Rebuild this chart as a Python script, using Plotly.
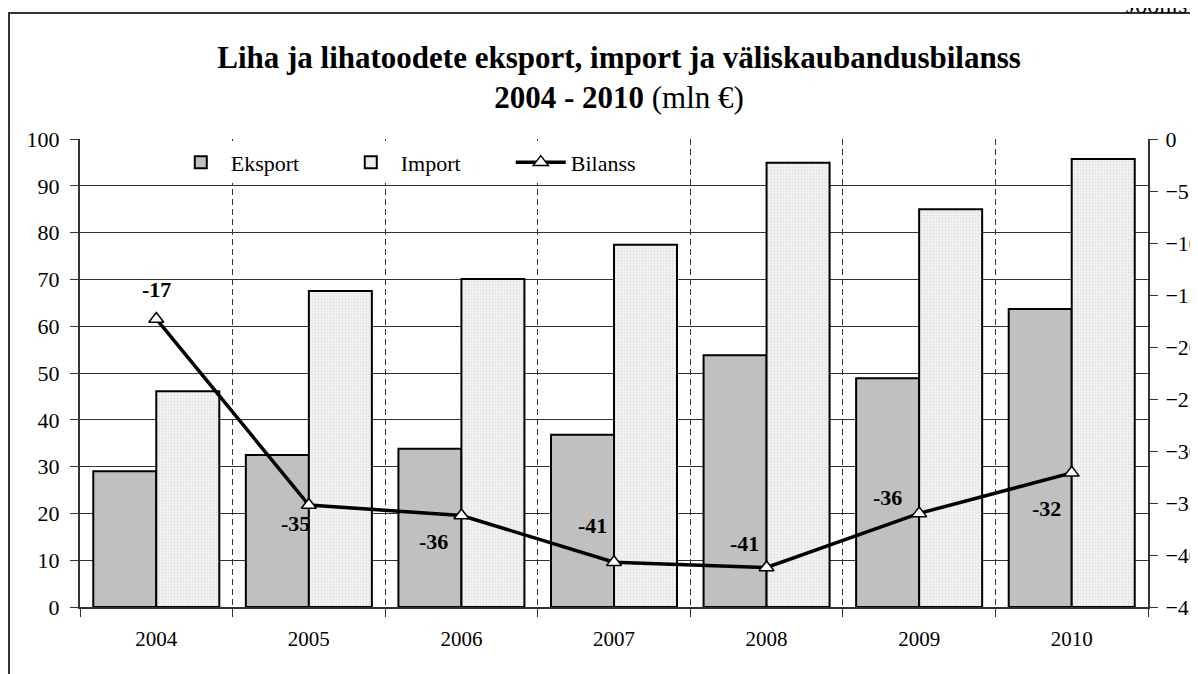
import plotly.graph_objects as go

years = ["2004", "2005", "2006", "2007", "2008", "2009", "2010"]
eksport = [29.0, 32.5, 33.8, 36.8, 53.8, 48.9, 63.7]
importv = [46.1, 67.5, 70.1, 77.4, 94.9, 85.0, 95.7]
bilanss = [-17.3, -35.2, -36.2, -40.7, -41.2, -36.0, -32.1]

# label offsets (px) for the balance labels
lab_dx = [0, -13, -28, -22, -22, -32, -25]
lab_dy = [29, -18, -26, 37, 24, 16, -36]

FONT = "Liberation Serif, Times New Roman, serif"

fig = go.Figure()
fig.add_trace(go.Bar(
    x=years, y=eksport, name="Eksport",
    marker=dict(color="#c0c0c0", line=dict(color="black", width=2)),
))
fig.add_trace(go.Bar(
    x=years, y=importv, name="Import",
    marker=dict(color="#f2f2f2", line=dict(color="black", width=2),
                pattern=dict(shape=".", size=3, solidity=0.3,
                             fgcolor="#c8c8c8", bgcolor="#f4f4f4")),
))
fig.add_trace(go.Scatter(
    x=years, y=bilanss, name="Bilanss", yaxis="y2", mode="lines+markers",
    line=dict(color="black", width=3.5),
    marker=dict(symbol="triangle-up", size=13, color="white",
                line=dict(color="black", width=1.5)),
))

for i, (v, dx, dy) in enumerate(zip(bilanss, lab_dx, lab_dy)):
    fig.add_annotation(x=i, y=v, xref="x", yref="y2", text=f"<b>{round(v):d}</b>",
                       showarrow=False, xshift=dx, yshift=dy,
                       font=dict(family=FONT, size=22, color="black"))

# outer frame and figure number
fig.add_shape(type="rect", xref="paper", yref="paper",
              x0=(9 - 80) / 1068, x1=1.5, y0=-0.5, y1=(607 - 13) / 468,
              line=dict(color="#333333", width=2), layer="below")
fig.add_annotation(text="Joonis", xref="paper", yref="paper",
                   x=(1124 - 80) / 1068, y=(607 - 20) / 468,
                   xanchor="left", yanchor="bottom", showarrow=False,
                   font=dict(family=FONT, size=24, color="black"))

fig.update_layout(
    width=1190, height=666,
    margin=dict(l=72, r=50, t=131, b=67, autoexpand=False),
    paper_bgcolor="white", plot_bgcolor="white",
    font=dict(family=FONT, size=20, color="black"),
    title=dict(
        text="<b>Liha ja lihatoodete eksport, import ja väliskaubandusbilanss</b><br>"
             "<b>2004 - 2010</b> (mln €)",
        x=(619 - 8) / 1190, xanchor="center", y=1 - 60 / 666, yanchor="top",
        font=dict(family=FONT, size=31, color="black"),
    ),
    barmode="group", bargap=0.174, bargroupgap=0,
    showlegend=True,
    legend=dict(orientation="h", x=0.085, y=0.995, xanchor="left", yanchor="top",
                bgcolor="white", font=dict(family=FONT, size=22),
                traceorder="normal", itemwidth=50,
                entrywidth=105, entrywidthmode="pixels"),
    xaxis=dict(type="category", tickson="boundaries", showgrid=True,
               gridcolor="#333333", griddash="6px,4px", gridwidth=1,
               ticks="outside", ticklen=8, tickcolor="#333333",
               showline=True, linecolor="#333333", linewidth=2,
               range=[-0.5, 6.5], tickfont=dict(size=21), ticklabelstandoff=12,
               automargin=False),
    yaxis=dict(range=[0, 100], dtick=10, showgrid=True, gridcolor="#333333",
               gridwidth=1, zeroline=False, ticks="outside", ticklen=8,
               tickcolor="#333333", showline=True, linecolor="#333333",
               linewidth=2, tickfont=dict(size=22), ticklabelstandoff=6,
               automargin=False),
    yaxis2=dict(range=[-45, 0], dtick=5, overlaying="y", side="right",
                showgrid=False, zeroline=False, ticks="outside", ticklen=8,
                tickcolor="#333333", showline=True, linecolor="#333333",
                linewidth=2, tickfont=dict(size=22), ticklabelstandoff=3,
                automargin=False),
)

fig.write_html("out.html")
